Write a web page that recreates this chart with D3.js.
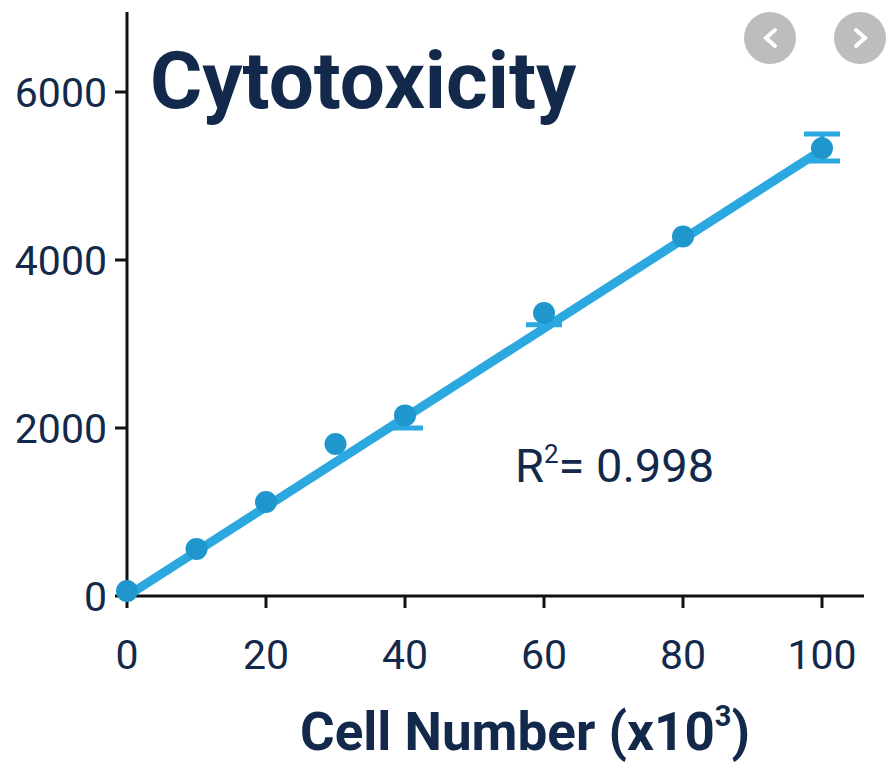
<!DOCTYPE html><html><head><meta charset="utf-8">
<script src="https://cdn.jsdelivr.net/npm/d3@7"></script>
<style>body{margin:0;background:#fff}svg{font-family:Roboto,sans-serif}</style></head><body>
<svg id="c" width="892" height="780"></svg>
<script>
const cells=[0,10,20,30,40,60,80,100];
const signal=[60,560,1120,1810,2150,3370,4280,5330];
const errLow=[60,560,1120,1810,2000,3230,4280,5180];
const errHigh=[60,560,1120,1810,2150,3370,4280,5500];
const fitStart=[0,0], fitEnd=[100,5310];
const xTicks=[0,20,40,60,80,100], yTicks=[0,2000,4000,6000];
const navy="#13294b", blue="#2aa8df", dot="#1f97cc";
const svg=d3.select("#c");
const x=d3.scaleLinear().domain([0,100]).range([127,822]);
const y=d3.scaleLinear().domain([0,6000]).range([596,92]);
svg.append("line").attr("x1",127).attr("x2",127).attr("y1",12).attr("y2",597).attr("stroke","#111").attr("stroke-width",3);
svg.append("line").attr("x1",126).attr("x2",864).attr("y1",596).attr("y2",596).attr("stroke","#111").attr("stroke-width",3);
xTicks.forEach(t=>{svg.append("line").attr("x1",x(t)).attr("x2",x(t)).attr("y1",596).attr("y2",608).attr("stroke","#111").attr("stroke-width",3);
 svg.append("text").attr("x",x(t)).attr("y",669).attr("text-anchor","middle").attr("font-size",41).attr("fill",navy).text(t);});
yTicks.forEach(t=>{svg.append("line").attr("x1",115).attr("x2",127).attr("y1",y(t)).attr("y2",y(t)).attr("stroke","#111").attr("stroke-width",3);
 svg.append("text").attr("x",107).attr("y",y(t)+15).attr("text-anchor","end").attr("font-size",41).attr("fill",navy).text(t);});
svg.append("line").attr("x1",x(fitStart[0])).attr("y1",y(fitStart[1])).attr("x2",x(fitEnd[0])).attr("y2",y(fitEnd[1])).attr("stroke",blue).attr("stroke-width",9);
cells.forEach((c,i)=>{
 if(errHigh[i]-errLow[i]>0){
  const g=svg.append("g").attr("stroke",blue).attr("stroke-width",5);
  g.append("line").attr("x1",x(c)).attr("x2",x(c)).attr("y1",y(errLow[i])).attr("y2",y(errHigh[i]));
  if(errLow[i]<signal[i]) g.append("line").attr("x1",x(c)-18).attr("x2",x(c)+18).attr("y1",y(errLow[i])).attr("y2",y(errLow[i]));
  if(errHigh[i]>signal[i]) g.append("line").attr("x1",x(c)-18).attr("x2",x(c)+18).attr("y1",y(errHigh[i])).attr("y2",y(errHigh[i]));
 }
 svg.append("circle").attr("cx",x(c)).attr("cy",y(signal[i])).attr("r",11).attr("fill",dot);
});
svg.append("text").attr("x",150).attr("y",108).attr("font-size",80).attr("font-weight",700).attr("fill",navy).text("Cytotoxicity");
const r=svg.append("text").attr("x",515).attr("y",482).attr("font-size",47).attr("fill",navy);
r.append("tspan").text("R");r.append("tspan").attr("dy",-19).attr("font-size",26).text("2");r.append("tspan").attr("dy",19).text("= 0.998");
const xl=svg.append("text").attr("x",300).attr("y",750).attr("font-size",53).attr("font-weight",700).attr("fill",navy);
xl.append("tspan").text("Cell Number (x10");xl.append("tspan").attr("dy",-24).attr("font-size",29).text("3");xl.append("tspan").attr("dy",24).text(")");
[[770,"M775,30 L766,38 L775,46"],[860,"M856,30 L865,38 L856,46"]].forEach(([cx,p])=>{
 svg.append("circle").attr("cx",cx).attr("cy",38).attr("r",26).attr("fill","#bdbdbd");
 svg.append("path").attr("d",p).attr("fill","none").attr("stroke","#fff").attr("stroke-width",4).attr("stroke-linecap","round");});
</script></body></html>
